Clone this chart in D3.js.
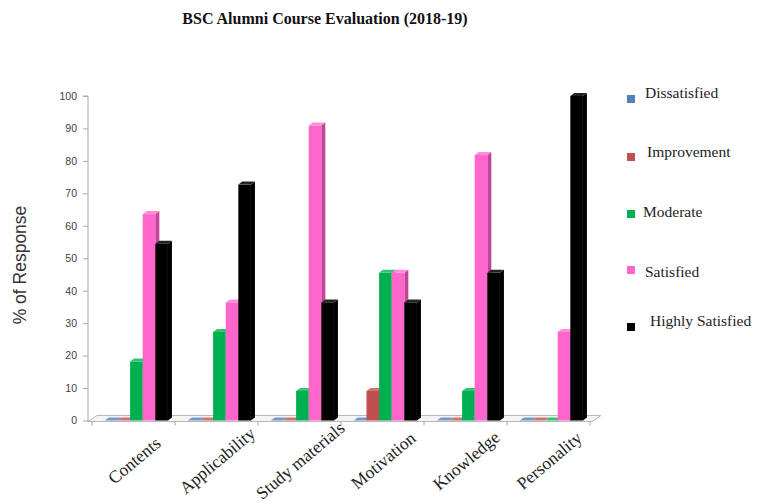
<!DOCTYPE html>
<html><head><meta charset="utf-8">
<script src="https://cdn.jsdelivr.net/npm/d3@7"></script>
<style>body{margin:0;background:#fff}</style>
</head><body>
<svg id="c" width="759" height="504"></svg>
<script>
const categories = ["Contents","Applicability","Study materials","Motivation","Knowledge","Personality"];
const seriesNames = ["Dissatisfied","Improvement","Moderate","Satisfied","Highly Satisfied"];
const dissatisfied = [0,0,0,0,0,0];
const improvement  = [0,0,0,9.1,0,0];
const moderate     = [18.2,27.3,9.1,45.5,9.1,0];
const satisfied    = [63.6,36.4,90.9,45.5,81.8,27.3];
const highlySat    = [54.5,72.7,36.4,36.4,45.5,100];
const yTicks = [0,10,20,30,40,50,60,70,80,90,100];
const colors = ["#4F81BD","#C0504D","#00B050","#FF66CC","#000000"];
const sideColors = ["#3A6396","#923B39","#00803A","#C4449C","#000000"];
const topColors = ["#7399CC","#D27370","#33C473","#FF8CD9","#222222"];
const values = [dissatisfied, improvement, moderate, satisfied, highlySat];

const svg = d3.select("#c");
const y = d3.scaleLinear().domain([0,100]).range([420.5, 96]);
const x0 = d3.scaleBand().domain(categories).range([92, 590]);
const bw = x0.bandwidth();
const x1 = d3.scaleBand().domain(seriesNames).range([bw*0.155, bw*0.915]);
const dx = 4, dy = 3;

// title
svg.append("text").attr("x", 325).attr("y", 24).attr("text-anchor","middle")
  .attr("font-family","Liberation Serif, Times New Roman, serif").attr("font-weight","bold")
  .attr("font-size", 16).attr("fill","#111").text("BSC Alumni Course Evaluation (2018-19)");

// floor
const fx0 = 88, fx1 = 592, fdx = 9, fdy = 6, fy = y(0)+1;
svg.append("path").attr("d", `M${fx0},${fy} L${fx1},${fy} L${fx1+fdx},${fy-fdy} L${fx0+fdx},${fy-fdy} Z`)
  .attr("fill","#f4f4f4").attr("stroke","#b8b8b8").attr("stroke-width",1);
// category ticks
const bounds = categories.map(c => x0(c)).concat([x0.range()[1]]);
svg.append("g").selectAll("line").data(bounds).join("line")
  .attr("x1", d=>d).attr("x2", d=>d).attr("y1", fy).attr("y2", fy+4)
  .attr("stroke","#a0a0a0");

// y axis
const yAxis = d3.axisLeft(y).tickValues(yTicks).tickSize(5).tickPadding(6).tickFormat(d3.format("d"));
const ag = svg.append("g").attr("transform","translate(88,0)").call(yAxis);
ag.select(".domain").attr("stroke","#a8a8a8").attr("d", `M-5,${y(100)}H0V${y(0)+2}`);
ag.selectAll(".tick line").attr("stroke","#a8a8a8");
ag.selectAll(".tick text").attr("font-family","Liberation Sans, Arial, sans-serif")
  .attr("font-size", 10.5).attr("fill","#404040");

// y title
svg.append("text").attr("transform","translate(26,265) rotate(-90)").attr("text-anchor","middle")
  .attr("font-family","Liberation Sans, Arial, sans-serif").attr("font-size",17.5).attr("fill","#333")
  .text("% of Response");

// bars
const bars = [];
categories.forEach((c,ci) => seriesNames.forEach((s,si) => bars.push({c, s, si, v: values[si][ci]})));
const bg = svg.append("g");
const g = bg.selectAll("g.bar").data(bars).join("g").attr("class","bar");
g.each(function(d){
  const gx = x0(d.c) + x1(d.s), w = x1.bandwidth(), yv = y(d.v), yb = y(0);
  const sel = d3.select(this);
  sel.append("path").attr("d", `M${gx+w},${yv} L${gx+w+dx},${yv-dy} L${gx+w+dx},${yb-dy} L${gx+w},${yb} Z`)
    .attr("fill", sideColors[d.si]);
  sel.append("rect").attr("x", gx).attr("y", yv).attr("width", w).attr("height", yb-yv)
    .attr("fill", colors[d.si]);
  sel.append("path").attr("d", `M${gx},${yv} L${gx+dx},${yv-dy} L${gx+w+dx},${yv-dy} L${gx+w},${yv} Z`)
    .attr("fill", topColors[d.si]);
});

// x labels
svg.append("g").selectAll("text").data(categories).join("text")
  .attr("transform", d => `translate(${x0(d)+bw/2+2},${462}) rotate(-40)`)
  .attr("text-anchor","middle").attr("dominant-baseline","middle")
  .attr("font-family","Liberation Serif, Times New Roman, serif").attr("font-size",17.5).attr("fill","#222")
  .text(d=>d);

// legend
const legY = [99, 157, 214, 270, 327];
const textY = [94, 153, 213, 273, 322];
const textX = [645, 647, 643, 645, 650];
const lg = svg.append("g");
lg.selectAll("rect").data(seriesNames).join("rect")
  .attr("x", 627).attr("y", (d,i)=>legY[i]-4).attr("width",8).attr("height",8)
  .attr("fill",(d,i)=>colors[i]);
lg.selectAll("text").data(seriesNames).join("text")
  .attr("x",(d,i)=>textX[i]).attr("y",(d,i)=>textY[i]).attr("dominant-baseline","middle")
  .attr("font-family","Liberation Serif, Times New Roman, serif").attr("font-size",15.5).attr("fill","#222")
  .text(d=>d);
</script>
</body></html>
